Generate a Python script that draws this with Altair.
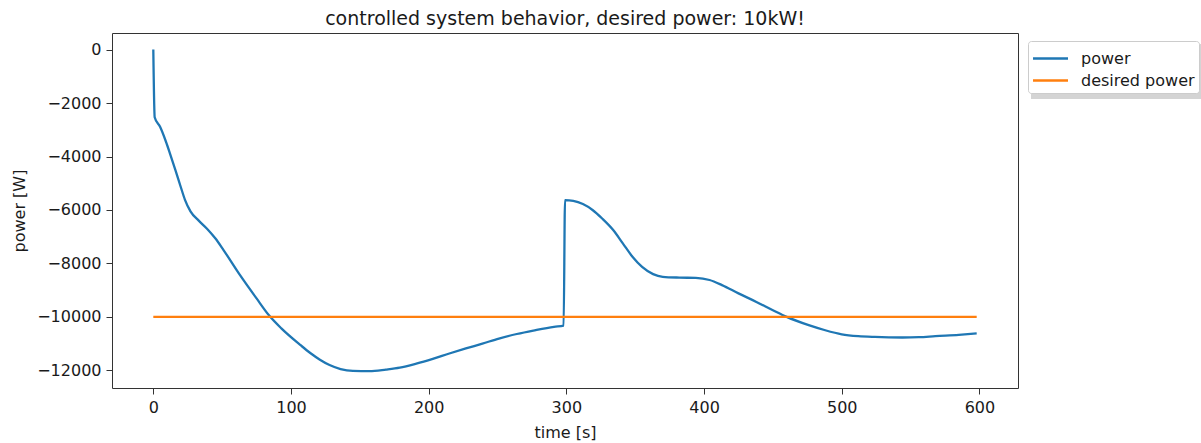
import altair as alt
import pandas as pd

# ---- data ----
time_s = [0, 1, 5, 9, 12, 16, 20, 23, 27, 33,
          39, 45, 51, 63, 75, 84, 93, 107, 114, 121,
          128, 136, 145, 157, 169, 179, 191, 203, 215, 227,
          239, 251, 264, 276, 291, 298, 299, 305, 312, 319,
          326, 334, 341, 348, 355, 363, 370, 382, 394, 404,
          413, 425, 438, 450, 460, 476, 488, 500, 512, 524,
          544, 556, 568, 585, 598]
power_w = [0, -2530, -2900, -3420, -3870, -4500, -5150, -5620, -6050, -6400,
           -6700, -7060, -7500, -8440, -9310, -9940, -10430, -11060, -11350, -11600,
           -11800, -11950, -12020, -12030, -11970, -11900, -11750, -11570, -11370, -11180,
           -11000, -10810, -10640, -10510, -10370, -10330, -5630, -5660, -5780, -6000,
           -6320, -6750, -7250, -7750, -8130, -8400, -8500, -8530, -8540, -8620,
           -8810, -9120, -9440, -9750, -10000, -10310, -10500, -10650, -10720, -10750,
           -10770, -10760, -10720, -10670, -10620]
desired_time = [0, 598]
desired_power = [-10000, -10000]

series_names = ["power", "desired power"]
series_colors = ["#1f77b4", "#ff7f0e"]
x_ticks = [0, 100, 200, 300, 400, 500, 600]
y_ticks = [-12000, -10000, -8000, -6000, -4000, -2000, 0]

rows = [{"series": "power", "time": t, "value": v} for t, v in zip(time_s, power_w)]
rows += [{"series": "desired power", "time": t, "value": v} for t, v in zip(desired_time, desired_power)]
df = pd.DataFrame(rows)

FONT = "DejaVu Sans"
TXT = "#1a1a1a"

lines = alt.Chart(df).mark_line(strokeWidth=2.3, interpolate="monotone").encode(
    x=alt.X("time:Q",
            scale=alt.Scale(domain=[-30, 628], nice=False, zero=False),
            axis=alt.Axis(values=x_ticks, title="time [s]", format="d",
                          titleBaseline="alphabetic", titleX=453, titleY=49)),
    y=alt.Y("value:Q",
            scale=alt.Scale(domain=[-12660, 620], nice=False, zero=False),
            axis=alt.Axis(values=y_ticks, title="power [W]", format="d",
                          titleAngle=270, titleBaseline="alphabetic",
                          titleX=-88, titleY=177.5)),
    color=alt.Color("series:N",
                    scale=alt.Scale(domain=series_names, range=series_colors),
                    sort=series_names,
                    legend=alt.Legend(title=None, orient="none", legendX=916, legendY=8,
                                      strokeColor="#cccccc", fillColor="white",
                                      cornerRadius=3, padding=4, rowPadding=0,
                                      symbolType="M-1.04,0H1.875", symbolSize=576,
                                      symbolStrokeWidth=2.3, labelFontSize=16,
                                      labelFont=FONT, labelColor=TXT, labelOffset=22)),
    order=alt.Order("time:Q"),
)

shadow = alt.Chart(pd.DataFrame({"a": [0]})).mark_rect(color="#aaaaaa", opacity=0.5).encode(
    x=alt.value(919), x2=alt.value(1092), y=alt.value(11), y2=alt.value(66)
)

chart = alt.layer(shadow, lines).properties(
    width=906, height=355,
    background="white",
    title=alt.TitleParams("controlled system behavior, desired power: 10kW!",
                          fontSize=19, font=FONT, fontWeight="normal", color=TXT,
                          baseline="alphabetic", offset=6, dy=17, anchor="middle"),
    autosize=alt.AutoSizeParams(type="none"),
    padding={"left": 112, "top": 33, "right": 183, "bottom": 55},
).configure_view(
    stroke="#333333", strokeWidth=1
).configure_axis(
    domain=False, grid=False, ticks=True, tickSize=6, tickWidth=1, tickColor="#333333",
    labelFont=FONT, labelFontSize=16, labelColor=TXT, labelPadding=5,
    titleFont=FONT, titleFontSize=16, titleColor=TXT, titleFontWeight="normal",
)

chart.save("out.html", embed_options={"renderer": "svg", "actions": False})
